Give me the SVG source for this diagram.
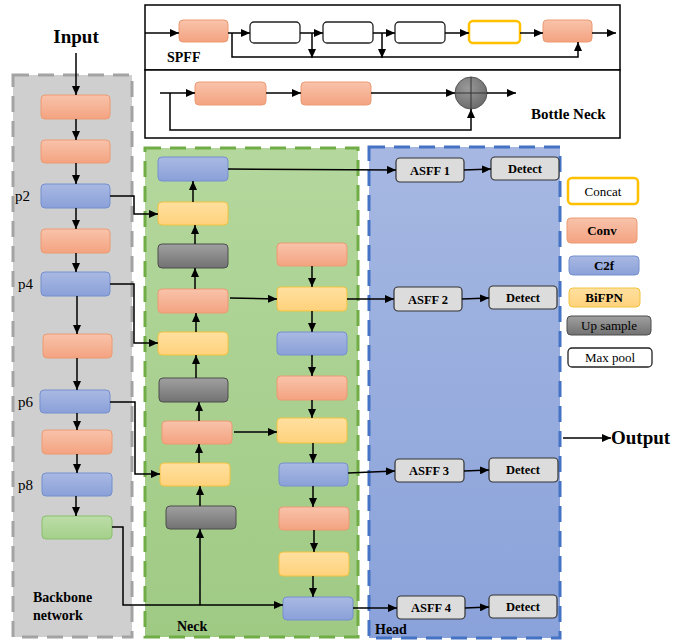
<svg xmlns="http://www.w3.org/2000/svg" width="677" height="641" viewBox="0 0 677 641">
<style>
.t{font-family:"Liberation Serif","Times New Roman",serif;fill:#000}
.b{font-weight:bold}
.ln{fill:none;stroke:#000;stroke-width:1.5}
.ar{marker-end:url(#ah)}
.conv{fill:url(#gConv);stroke:#ec9a72;stroke-width:1}
.c2f{fill:url(#gC2f);stroke:#7590cf;stroke-width:1}
.bif{fill:url(#gBif);stroke:#f3c23f;stroke-width:1}
.ups{fill:url(#gUp);stroke:#4d4d4d;stroke-width:1}
.grn{fill:url(#gGrn);stroke:#88bf6a;stroke-width:1}
.mp{fill:#fff;stroke:#222;stroke-width:1.3}
.cc{fill:#fff;stroke:#ffc000;stroke-width:2.5}
.hd{fill:#dcdcdc;stroke:#333;stroke-width:1.2}
</style>
<defs>
<marker id="ah" markerUnits="userSpaceOnUse" markerWidth="9" markerHeight="8" refX="9" refY="4" orient="auto"><path d="M0,0 L9,4 L0,8 z" fill="#000"/></marker>
<linearGradient id="gConv" x1="0" y1="0" x2="0" y2="1"><stop offset="0" stop-color="#f8c3ab"/><stop offset="1" stop-color="#f4a380"/></linearGradient>
<linearGradient id="gC2f" x1="0" y1="0" x2="0" y2="1"><stop offset="0" stop-color="#a9b9e3"/><stop offset="1" stop-color="#8aa0d8"/></linearGradient>
<linearGradient id="gBif" x1="0" y1="0" x2="0" y2="1"><stop offset="0" stop-color="#ffe0a0"/><stop offset="1" stop-color="#ffd27c"/></linearGradient>
<linearGradient id="gUp" x1="0" y1="0" x2="0" y2="1"><stop offset="0" stop-color="#a0a0a0"/><stop offset="1" stop-color="#727272"/></linearGradient>
<linearGradient id="gGrn" x1="0" y1="0" x2="0" y2="1"><stop offset="0" stop-color="#bcdda8"/><stop offset="1" stop-color="#a4d08a"/></linearGradient>
<linearGradient id="gHead" x1="0" y1="0" x2="0" y2="1"><stop offset="0" stop-color="#a6b8e2"/><stop offset="1" stop-color="#8aa2da"/></linearGradient>
<linearGradient id="gNeck" x1="0" y1="0" x2="0" y2="1"><stop offset="0" stop-color="#b4d79d"/><stop offset="1" stop-color="#9fca84"/></linearGradient>
<radialGradient id="gCirc" cx="0.4" cy="0.35" r="0.7"><stop offset="0" stop-color="#9a9a9a"/><stop offset="1" stop-color="#6a6a6a"/></radialGradient>
</defs>
<rect width="677" height="641" fill="#fff"/>

<!-- containers -->
<g id="backbone">
<rect x="13" y="75" width="119" height="562" fill="#cfcfcf" stroke="#a3a3a3" stroke-width="3" stroke-dasharray="16,9"/>
<text class="t b" x="33" y="602" font-size="14">Backbone</text>
<text class="t b" x="33" y="620" font-size="14">network</text>
</g>
<g id="neck">
<rect x="145" y="148" width="213" height="489" fill="url(#gNeck)" stroke="#70ad47" stroke-width="3" stroke-dasharray="16,9"/>
<text class="t b" x="177" y="631" font-size="14">Neck</text>
</g>
<g id="head">
<rect x="369" y="147" width="191" height="491" fill="url(#gHead)" stroke="#4472c4" stroke-width="3" stroke-dasharray="16,9"/>
<text class="t b" x="375" y="634" font-size="14">Head</text>
</g>
<g id="modules">
<rect x="145" y="5" width="475" height="65" fill="#fff" stroke="#000" stroke-width="1.5"/>
<rect x="145" y="70" width="475" height="68" fill="#fff" stroke="#000" stroke-width="1.5"/>
<text class="t b" x="167" y="62" font-size="14">SPFF</text>
<text class="t b" x="531" y="119" font-size="15">Bottle Neck</text>
</g>

<!-- SPFF nodes -->
<g id="spff-conv1"><rect class="conv" x="179" y="20" width="49" height="22" rx="4"/></g>
<g id="spff-mp1"><rect class="mp" x="250" y="22" width="50" height="21" rx="4"/></g>
<g id="spff-mp2"><rect class="mp" x="323" y="22" width="50" height="21" rx="4"/></g>
<g id="spff-mp3"><rect class="mp" x="395" y="22" width="50" height="21" rx="4"/></g>
<g id="spff-concat"><rect class="cc" x="469" y="21" width="51" height="22" rx="4"/></g>
<g id="spff-conv2"><rect class="conv" x="543" y="20" width="49" height="22" rx="4"/></g>

<!-- Bottleneck nodes -->
<g id="bn-conv1"><rect class="conv" x="195" y="82" width="71" height="23" rx="4"/></g>
<g id="bn-conv2"><rect class="conv" x="301" y="82" width="70" height="23" rx="4"/></g>
<g id="bn-add"><circle cx="471" cy="93" r="16" fill="url(#gCirc)" stroke="#555" stroke-width="1"/><path d="M455,93 H487 M471,77 V109" stroke="#333" stroke-width="1"/></g>

<!-- Backbone nodes -->
<g id="input"><text class="t b" x="76" y="43" font-size="19" text-anchor="middle">Input</text></g>
<g id="bb1"><rect class="conv" x="41" y="95" width="69" height="24" rx="4"/></g>
<g id="bb2"><rect class="conv" x="41" y="140" width="69" height="23" rx="4"/></g>
<g id="bb3"><rect class="c2f" x="41" y="184" width="69" height="24" rx="4"/><text class="t" x="15" y="201" font-size="15">p2</text></g>
<g id="bb4"><rect class="conv" x="41" y="229" width="69" height="24" rx="4"/></g>
<g id="bb5"><rect class="c2f" x="41" y="272" width="69" height="24" rx="4"/><text class="t" x="18" y="289" font-size="15">p4</text></g>
<g id="bb6"><rect class="conv" x="43" y="334" width="69" height="24" rx="4"/></g>
<g id="bb7"><rect class="c2f" x="40" y="390" width="70" height="23" rx="4"/><text class="t" x="18" y="407" font-size="15">p6</text></g>
<g id="bb8"><rect class="conv" x="42" y="430" width="70" height="24" rx="4"/></g>
<g id="bb9"><rect class="c2f" x="42" y="473" width="70" height="23" rx="4"/><text class="t" x="18" y="490" font-size="15">p8</text></g>
<g id="bb10"><rect class="grn" x="42" y="516" width="70" height="23" rx="4"/></g>

<!-- Neck left column -->
<g id="nl1"><rect class="c2f" x="158" y="157" width="70" height="24" rx="4"/></g>
<g id="nl2"><rect class="bif" x="158" y="202" width="70" height="23" rx="4"/></g>
<g id="nl3"><rect class="ups" x="158" y="244" width="70" height="24" rx="4"/></g>
<g id="nl4"><rect class="conv" x="158" y="289" width="70" height="24" rx="4"/></g>
<g id="nl5"><rect class="bif" x="158" y="332" width="70" height="23" rx="4"/></g>
<g id="nl6"><rect class="ups" x="159" y="378" width="69" height="24" rx="4"/></g>
<g id="nl7"><rect class="conv" x="162" y="421" width="70" height="23" rx="4"/></g>
<g id="nl8"><rect class="bif" x="160" y="463" width="70" height="23" rx="4"/></g>
<g id="nl9"><rect class="ups" x="166" y="506" width="70" height="23" rx="4"/></g>

<!-- Neck right column -->
<g id="nr1"><rect class="conv" x="277" y="243" width="70" height="23" rx="4"/></g>
<g id="nr2"><rect class="bif" x="277" y="287" width="70" height="24" rx="4"/></g>
<g id="nr3"><rect class="c2f" x="277" y="332" width="70" height="23" rx="4"/></g>
<g id="nr4"><rect class="conv" x="277" y="376" width="70" height="24" rx="4"/></g>
<g id="nr5"><rect class="bif" x="277" y="418" width="70" height="25" rx="4"/></g>
<g id="nr6"><rect class="c2f" x="279" y="463" width="69" height="23" rx="4"/></g>
<g id="nr7"><rect class="conv" x="279" y="507" width="70" height="23" rx="4"/></g>
<g id="nr8"><rect class="bif" x="279" y="552" width="70" height="24" rx="4"/></g>
<g id="nr9"><rect class="c2f" x="283" y="597" width="70" height="23" rx="4"/></g>

<!-- Head nodes -->
<g id="asff1"><rect class="hd" x="396" y="158" width="68" height="24" rx="4"/><text class="t b" x="430" y="175" font-size="12.5" text-anchor="middle">ASFF 1</text></g>
<g id="det1"><rect class="hd" x="491" y="157" width="68" height="23" rx="4"/><text class="t b" x="525" y="173" font-size="12.5" text-anchor="middle">Detect</text></g>
<g id="asff2"><rect class="hd" x="394" y="287" width="68" height="24" rx="4"/><text class="t b" x="428" y="304" font-size="12.5" text-anchor="middle">ASFF 2</text></g>
<g id="det2"><rect class="hd" x="489" y="286" width="68" height="23" rx="4"/><text class="t b" x="523" y="302" font-size="12.5" text-anchor="middle">Detect</text></g>
<g id="asff3"><rect class="hd" x="395" y="459" width="69" height="23" rx="4"/><text class="t b" x="429" y="475" font-size="12.5" text-anchor="middle">ASFF 3</text></g>
<g id="det3"><rect class="hd" x="489" y="458" width="69" height="24" rx="4"/><text class="t b" x="523" y="474" font-size="12.5" text-anchor="middle">Detect</text></g>
<g id="asff4"><rect class="hd" x="397" y="596" width="68" height="23" rx="4"/><text class="t b" x="431" y="612" font-size="12.5" text-anchor="middle">ASFF 4</text></g>
<g id="det4"><rect class="hd" x="489" y="595" width="68" height="23" rx="4"/><text class="t b" x="523" y="611" font-size="12.5" text-anchor="middle">Detect</text></g>
<g id="output"><text class="t b" x="611" y="444" font-size="19">Output</text></g>

<!-- Legend -->
<g id="leg-concat"><rect class="cc" x="568" y="178" width="70" height="26" rx="4"/><text class="t" x="603" y="196" font-size="13" text-anchor="middle">Concat</text></g>
<g id="leg-conv"><rect class="conv" x="567" y="218" width="70" height="25" rx="4"/><text class="t b" x="602" y="235" font-size="13" text-anchor="middle">Conv</text></g>
<g id="leg-c2f"><rect class="c2f" x="569" y="256" width="70" height="19" rx="4"/><text class="t b" x="604" y="270" font-size="13" text-anchor="middle">C2f</text></g>
<g id="leg-bifpn"><rect class="bif" x="569" y="288" width="71" height="19" rx="4"/><text class="t b" x="604" y="302" font-size="13" text-anchor="middle">BiFPN</text></g>
<g id="leg-up"><rect class="ups" x="567" y="316" width="84" height="19" rx="4"/><text class="t" x="609" y="330" font-size="13" text-anchor="middle" fill="#1a1a1a">Up sample</text></g>
<g id="leg-mp"><rect class="mp" x="568" y="348" width="84" height="19" rx="4"/><text class="t" x="610" y="362" font-size="13" text-anchor="middle">Max pool</text></g>

<!-- connectors -->
<g id="connectors">
<!-- SPFF -->
<line class="ln ar" x1="145" y1="33" x2="179" y2="33"/>
<line class="ln ar" x1="228" y1="33" x2="250" y2="33"/>
<line class="ln ar" x1="300" y1="33" x2="323" y2="33"/>
<line class="ln ar" x1="373" y1="33" x2="395" y2="33"/>
<line class="ln ar" x1="445" y1="33" x2="469" y2="33"/>
<line class="ln ar" x1="520" y1="33" x2="543" y2="33"/>
<line class="ln ar" x1="592" y1="33" x2="616" y2="33"/>
<polyline class="ln ar" points="232,33 232,57 578,57 578,42"/>
<line class="ln ar" x1="312" y1="33" x2="312" y2="58"/>
<line class="ln ar" x1="382" y1="33" x2="382" y2="58"/>
<!-- Bottleneck -->
<line class="ln ar" x1="160" y1="93" x2="195" y2="93"/>
<line class="ln ar" x1="266" y1="93" x2="301" y2="93"/>
<line class="ln ar" x1="371" y1="93" x2="455" y2="93"/>
<line class="ln ar" x1="487" y1="93" x2="516" y2="93"/>
<polyline class="ln ar" points="170,93 170,130 471,130 471,109"/>
<!-- Backbone -->
<line class="ln ar" x1="76" y1="53" x2="76" y2="95"/>
<line class="ln ar" x1="76" y1="119" x2="76" y2="140"/>
<line class="ln ar" x1="76" y1="163" x2="76" y2="184"/>
<line class="ln ar" x1="76" y1="208" x2="76" y2="229"/>
<line class="ln ar" x1="76" y1="253" x2="76" y2="272"/>
<line class="ln ar" x1="77" y1="296" x2="77" y2="334"/>
<line class="ln ar" x1="77" y1="358" x2="77" y2="390"/>
<line class="ln ar" x1="77" y1="413" x2="77" y2="430"/>
<line class="ln ar" x1="77" y1="454" x2="77" y2="473"/>
<line class="ln ar" x1="76" y1="496" x2="76" y2="516"/>
<!-- Backbone to neck -->
<polyline class="ln ar" points="110,196 134,196 134,214 158,214"/>
<polyline class="ln ar" points="110,284 134,284 134,343 158,343"/>
<polyline class="ln ar" points="110,402 135,402 135,474 160,474"/>
<polyline class="ln ar" points="112,527 123,527 123,605 283,605"/>
<line class="ln ar" x1="200" y1="605" x2="200" y2="529"/>
<!-- Neck left column up -->
<line class="ln ar" x1="200" y1="506" x2="200" y2="486"/>
<line class="ln ar" x1="199" y1="463" x2="199" y2="444"/>
<line class="ln ar" x1="199" y1="421" x2="199" y2="402"/>
<line class="ln ar" x1="196" y1="378" x2="196" y2="355"/>
<line class="ln ar" x1="196" y1="332" x2="196" y2="313"/>
<line class="ln ar" x1="195" y1="289" x2="195" y2="268"/>
<line class="ln ar" x1="195" y1="244" x2="195" y2="225"/>
<line class="ln ar" x1="193" y1="202" x2="193" y2="181"/>
<!-- Neck cross -->
<line class="ln ar" x1="230" y1="298" x2="277" y2="299"/>
<line class="ln ar" x1="234" y1="432" x2="277" y2="432"/>
<!-- Neck right column down -->
<line class="ln ar" x1="312" y1="266" x2="312" y2="287"/>
<line class="ln ar" x1="312" y1="311" x2="312" y2="332"/>
<line class="ln ar" x1="312" y1="355" x2="312" y2="376"/>
<line class="ln ar" x1="312" y1="400" x2="312" y2="418"/>
<line class="ln ar" x1="313" y1="443" x2="313" y2="463"/>
<line class="ln ar" x1="313" y1="486" x2="313" y2="507"/>
<line class="ln ar" x1="314" y1="530" x2="314" y2="552"/>
<line class="ln ar" x1="313" y1="576" x2="313" y2="597"/>
<!-- Neck to head -->
<line class="ln ar" x1="228" y1="169" x2="396" y2="170"/>
<line class="ln ar" x1="347" y1="299" x2="394" y2="299"/>
<line class="ln ar" x1="348" y1="473" x2="395" y2="471"/>
<line class="ln ar" x1="353" y1="608" x2="397" y2="608"/>
<!-- Head -->
<line class="ln ar" x1="464" y1="170" x2="491" y2="169"/>
<line class="ln ar" x1="462" y1="299" x2="489" y2="298"/>
<line class="ln ar" x1="464" y1="471" x2="489" y2="470"/>
<line class="ln ar" x1="465" y1="608" x2="489" y2="607"/>
<line class="ln ar" x1="563" y1="438" x2="611" y2="438"/>
</g>
</svg>
